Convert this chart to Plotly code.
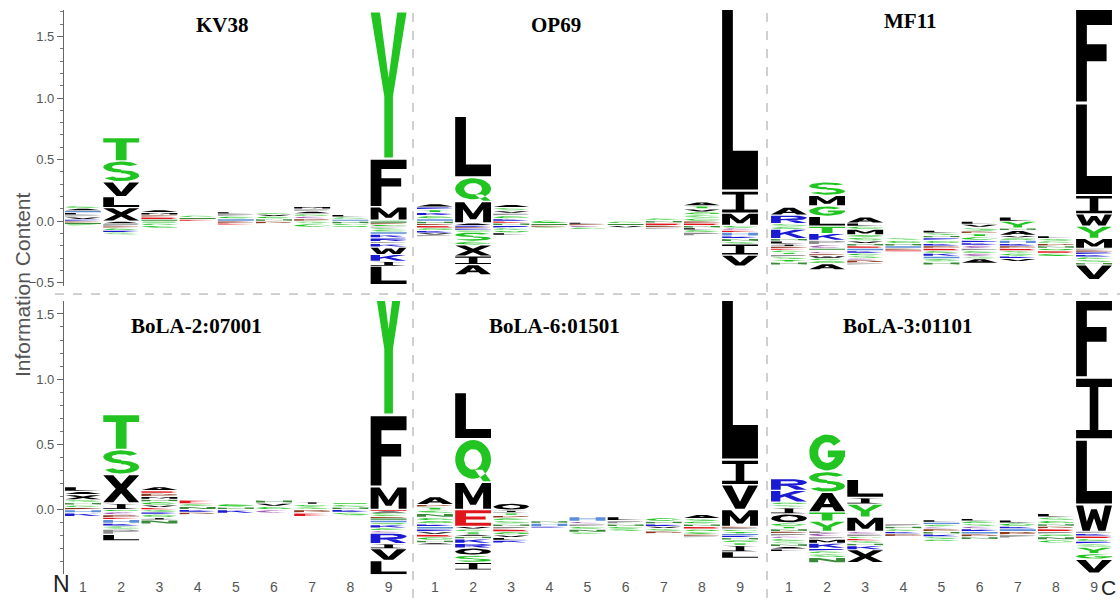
import numpy as np
import plotly.graph_objects as go

# ---------------------------------------------------------------- data
POSITIONS = [1, 2, 3, 4, 5, 6, 7, 8, 9]
TITLES = ["KV38", "OP69", "MF11", "BoLA-2:07001", "BoLA-6:01501", "BoLA-3:01101"]

# letters stacked above the baseline (listed bottom -> top), heights in bits
KV38_UP = [
    [("R", 0.015), ("V", 0.02), ("P", 0.015), ("L", 0.02), ("H", 0.015), ("A", 0.02), ("G", 0.02)],
    [("X", 0.11), ("L", 0.09), ("V", 0.12), ("S", 0.17), ("T", 0.19)],
    [("N", 0.015), ("E", 0.02), ("D", 0.015), ("M", 0.02), ("A", 0.024)],
    [("E", 0.015), ("N", 0.015), ("G", 0.018)],
    [("H", 0.02), ("G", 0.02), ("P", 0.02), ("L", 0.016)],
    [("N", 0.02), ("G", 0.02), ("V", 0.015), ("S", 0.015)],
    [("D", 0.02), ("C", 0.02), ("G", 0.02), ("A", 0.02), ("P", 0.02), ("M", 0.02)],
    [("H", 0.015), ("G", 0.02), ("L", 0.019)],
    [("G", 0.008), ("M", 0.108), ("F", 0.39), ("Y", 1.2)],
]
# letters stacked below the baseline (listed baseline -> bottom)
KV38_DOWN = [
    [("D", 0.012), ("N", 0.012), ("G", 0.011)],
    [("A", 0.02), ("P", 0.02), ("D", 0.015), ("G", 0.02), ("K", 0.015), ("S", 0.02)],
    [("Q", 0.015), ("G", 0.02), ("S", 0.025)],
    [("N", 0.006)],
    [("D", 0.015), ("E", 0.015)],
    [("D", 0.02)],
    [("S", 0.02), ("G", 0.03)],
    [("N", 0.02), ("G", 0.015), ("Q", 0.015)],
    [("N", 0.015), ("D", 0.012), ("G", 0.015), ("P", 0.012), ("S", 0.016), ("G", 0.015),
     ("H", 0.02), ("K", 0.03), ("R", 0.03), ("P", 0.015), ("K", 0.03), ("W", 0.06),
     ("K", 0.055), ("I", 0.04), ("L", 0.15)],
]

OP69_UP = [
    [("D", 0.015), ("N", 0.02), ("H", 0.02), ("G", 0.025), ("K", 0.025), ("T", 0.025), ("R", 0.02), ("A", 0.027)],
    [("A", 0.02), ("M", 0.175), ("Q", 0.195), ("L", 0.5)],
    [("N", 0.02), ("E", 0.015), ("K", 0.02), ("G", 0.025), ("P", 0.02), ("V", 0.02), ("S", 0.025), ("A", 0.025)],
    [("N", 0.015), ("G", 0.028)],
    [("D", 0.012), ("L", 0.012)],
    [("N", 0.015), ("G", 0.02)],
    [("E", 0.02), ("N", 0.02), ("G", 0.022)],
    [("E", 0.02), ("D", 0.015), ("G", 0.025), ("S", 0.025), ("Q", 0.025), ("V", 0.025), ("T", 0.025), ("A", 0.03)],
    [("M", 0.1), ("I", 0.18), ("L", 1.6)],
]
OP69_DOWN = [
    [("E", 0.02), ("Q", 0.02), ("K", 0.02), ("V", 0.016), ("P", 0.015)],
    [("K", 0.012), ("D", 0.012), ("R", 0.014), ("Q", 0.015), ("S", 0.075), ("G", 0.03),
     ("X", 0.09), ("I", 0.07), ("A", 0.082)],
    [("R", 0.02), ("G", 0.02), ("Q", 0.02), ("L", 0.018)],
    [("D", 0.012), ("S", 0.012)],
    [("C", 0.015), ("G", 0.015)],
    [("V", 0.019)],
    [("D", 0.015), ("P", 0.015)],
    [("N", 0.02), ("L", 0.015), ("G", 0.02), ("P", 0.028)],
    [("G", 0.02), ("C", 0.02), ("E", 0.015), ("H", 0.03), ("K", 0.02), ("N", 0.025),
     ("S", 0.02), ("I", 0.09), ("V", 0.09)],
]

MF11_UP = [
    [("D", 0.015), ("I", 0.02), ("L", 0.025), ("N", 0.02), ("K", 0.075), ("G", 0.02), ("S", 0.025), ("R", 0.07), ("A", 0.065)],
    [("C", 0.03), ("P", 0.035), ("K", 0.055), ("T", 0.06), ("L", 0.08), ("G", 0.085), ("M", 0.085), ("S", 0.11)],
    [("E", 0.02), ("N", 0.02), ("V", 0.02), ("S", 0.03), ("Q", 0.02), ("M", 0.045), ("G", 0.025), ("L", 0.025), ("A", 0.05)],
    [("H", 0.02), ("N", 0.02), ("G", 0.025), ("S", 0.021)],
    [("D", 0.02), ("K", 0.02), ("G", 0.025), ("R", 0.02), ("N", 0.02), ("S", 0.02), ("L", 0.023)],
    [("C", 0.025), ("K", 0.02), ("R", 0.02), ("G", 0.03), ("T", 0.025), ("D", 0.02), ("S", 0.03), ("V", 0.025), ("L", 0.025)],
    [("D", 0.02), ("K", 0.02), ("H", 0.025), ("Q", 0.02), ("V", 0.02), ("A", 0.04), ("N", 0.02), ("Y", 0.055), ("L", 0.035)],
    [("N", 0.02), ("D", 0.02), ("G", 0.02), ("S", 0.02), ("L", 0.022)],
    [("M", 0.08), ("Y", 0.1), ("W", 0.1), ("I", 0.15), ("L", 0.75), ("F", 0.8)],
]
MF11_DOWN = [
    [("E", 0.015), ("G", 0.02), ("T", 0.015), ("P", 0.02), ("S", 0.02), ("Y", 0.02), ("N", 0.025)],
    [("N", 0.015), ("E", 0.01), ("C", 0.02), ("D", 0.015), ("W", 0.02), ("G", 0.02), ("Q", 0.025), ("A", 0.05)],
    [("H", 0.02), ("K", 0.02), ("G", 0.02), ("S", 0.02), ("C", 0.015), ("D", 0.025), ("P", 0.015)],
    [("D", 0.015), ("E", 0.012)],
    [("E", 0.02), ("G", 0.02), ("K", 0.025), ("H", 0.02), ("S", 0.025), ("N", 0.025)],
    [("P", 0.02), ("G", 0.02), ("C", 0.025), ("S", 0.02), ("A", 0.036)],
    [("E", 0.02), ("S", 0.02), ("G", 0.022), ("K", 0.02), ("V", 0.025)],
    [("Q", 0.02), ("E", 0.02), ("G", 0.027)],
    [("P", 0.015), ("D", 0.015), ("R", 0.02), ("K", 0.02), ("G", 0.02), ("S", 0.025), ("N", 0.02), ("V", 0.12)],
]

BOLA2_UP = [
    [("D", 0.015), ("G", 0.02), ("N", 0.02), ("S", 0.02), ("X", 0.04), ("A", 0.025), ("L", 0.035)],
    [("I", 0.05), ("X", 0.22), ("S", 0.19), ("T", 0.27)],
    [("E", 0.015), ("V", 0.02), ("G", 0.025), ("N", 0.02), ("M", 0.02), ("D", 0.025), ("E", 0.02), ("A", 0.03)],
    [("N", 0.025), ("G", 0.02), ("E", 0.029)],
    [("N", 0.02), ("G", 0.028)],
    [("G", 0.025), ("V", 0.025), ("N", 0.024)],
    [("S", 0.02), ("G", 0.02), ("I", 0.02)],
    [("N", 0.02), ("G", 0.018), ("Q", 0.015)],
    [("M", 0.175), ("F", 0.55), ("Y", 1.2)],
]
BOLA2_DOWN = [
    [("H", 0.025), ("K", 0.028)],
    [("G", 0.015), ("C", 0.025), ("D", 0.02), ("E", 0.015), ("H", 0.03), ("K", 0.02), ("S", 0.025), ("P", 0.04), ("L", 0.05)],
    [("S", 0.02), ("K", 0.015), ("G", 0.025), ("I", 0.02), ("N", 0.03)],
    [("K", 0.02), ("D", 0.02)],
    [("K", 0.028)],
    [("C", 0.028)],
    [("D", 0.025), ("E", 0.028)],
    [("K", 0.02), ("S", 0.028)],
    [("E", 0.012), ("A", 0.012), ("G", 0.015), ("S", 0.015), ("D", 0.012), ("N", 0.015), ("H", 0.02),
     ("Q", 0.015), ("K", 0.025), ("G", 0.02), ("C", 0.019), ("R", 0.08), ("I", 0.04), ("V", 0.09), ("L", 0.11)],
]

BOLA6_UP = [
    [("K", 0.02), ("Q", 0.025), ("G", 0.025), ("N", 0.03), ("S", 0.025), ("T", 0.025), ("D", 0.018), ("A", 0.06)],
    [("E", 0.13), ("M", 0.21), ("Q", 0.33), ("L", 0.36)],
    [("N", 0.02), ("S", 0.025), ("G", 0.02), ("D", 0.02), ("T", 0.02), ("I", 0.02), ("O", 0.053)],
    [("H", 0.025), ("N", 0.02)],
    [("P", 0.02), ("C", 0.02), ("H", 0.036)],
    [("N", 0.02), ("P", 0.025), ("L", 0.031)],
    [("K", 0.02), ("N", 0.02), ("G", 0.027)],
    [("N", 0.02), ("G", 0.02), ("S", 0.02), ("A", 0.032)],
    [("M", 0.13), ("V", 0.19), ("I", 0.19), ("L", 1.3)],
]
BOLA6_DOWN = [
    [("H", 0.02), ("R", 0.02), ("V", 0.02), ("E", 0.02), ("G", 0.025), ("N", 0.02), ("A", 0.015)],
    [("V", 0.02), ("G", 0.02), ("T", 0.02), ("A", 0.015), ("N", 0.02), ("K", 0.035), ("R", 0.035),
     ("O", 0.055), ("S", 0.055), ("I", 0.06)],
    [("P", 0.02), ("E", 0.02), ("Q", 0.025), ("V", 0.02), ("L", 0.02), ("K", 0.022)],
    [("K", 0.01)],
    [("G", 0.02), ("N", 0.025), ("S", 0.016)],
    [("G", 0.02), ("S", 0.018)],
    [("V", 0.015), ("S", 0.02), ("D", 0.02)],
    [("E", 0.02), ("Q", 0.02), ("G", 0.02), ("D", 0.015), ("P", 0.01)],
    [("D", 0.012), ("P", 0.012), ("G", 0.015), ("Y", 0.015), ("H", 0.015), ("K", 0.015), ("N", 0.02),
     ("Q", 0.02), ("T", 0.02), ("I", 0.05), ("L", 0.05)],
]

BOLA3_UP = [
    [("N", 0.02), ("T", 0.02), ("G", 0.025), ("O", 0.07), ("I", 0.05), ("S", 0.02), ("Q", 0.02), ("K", 0.09), ("R", 0.09)],
    [("Y", 0.08), ("T", 0.07), ("A", 0.15), ("S", 0.16), ("G", 0.29)],
    [("M", 0.11), ("Y", 0.1), ("I", 0.05), ("L", 0.14)],
    [("G", 0.02), ("N", 0.02), ("P", 0.019)],
    [("D", 0.02), ("C", 0.015), ("G", 0.02), ("H", 0.015), ("L", 0.019)],
    [("K", 0.02), ("C", 0.02), ("S", 0.02), ("G", 0.02), ("L", 0.02)],
    [("H", 0.02), ("K", 0.02), ("G", 0.025), ("L", 0.024)],
    [("E", 0.02), ("D", 0.02), ("N", 0.02), ("G", 0.025), ("S", 0.025), ("L", 0.029)],
    [("W", 0.205), ("L", 0.5), ("I", 0.475), ("F", 0.65)],
]
BOLA3_DOWN = [
    [("D", 0.015), ("P", 0.02), ("C", 0.02), ("G", 0.02), ("S", 0.02), ("N", 0.02), ("A", 0.02), ("L", 0.018)],
    [("L", 0.01), ("C", 0.03), ("P", 0.02), ("M", 0.03), ("K", 0.04), ("R", 0.02), ("G", 0.02), ("S", 0.03), ("N", 0.04)],
    [("C", 0.02), ("P", 0.02), ("G", 0.015), ("E", 0.015), ("S", 0.02), ("N", 0.02), ("K", 0.03), ("X", 0.1)],
    [("K", 0.018), ("D", 0.02)],
    [("N", 0.02), ("K", 0.02), ("S", 0.02), ("G", 0.016)],
    [("H", 0.02), ("D", 0.02), ("N", 0.023)],
    [("D", 0.025), ("P", 0.026)],
    [("P", 0.02), ("Q", 0.02), ("N", 0.025), ("G", 0.024)],
    [("P", 0.015), ("K", 0.02), ("E", 0.02), ("G", 0.02), ("R", 0.02), ("S", 0.025), ("Y", 0.05), ("G", 0.043), ("V", 0.107)],
]

PANEL_UP = [KV38_UP, OP69_UP, MF11_UP, BOLA2_UP, BOLA6_UP, BOLA3_UP]
PANEL_DOWN = [KV38_DOWN, OP69_DOWN, MF11_DOWN, BOLA2_DOWN, BOLA6_DOWN, BOLA3_DOWN]

# ---------------------------------------------------------------- colours
GREEN, BLACK, BLUE, RED = "#22c422", "#000000", "#1a1ad2", "#e0161b"
LETTER_COLORS = {
    "G": GREEN, "S": GREEN, "T": GREEN, "Y": GREEN, "Q": GREEN, "N": "#3a8a3a",
    "A": BLACK, "F": BLACK, "I": BLACK, "L": BLACK, "M": BLACK, "V": BLACK, "W": BLACK,
    "X": BLACK, "O": BLACK, "C": "#a05cb0", "P": "#8c8c8c",
    "K": BLUE, "R": BLUE, "H": "#5d8fd8", "E": RED, "D": "#8b3a1f",
}


# ---------------------------------------------------------------- glyph outlines (unit box)
def arc(cx, cy, rx, ry, a0, a1, n=30):
    t = np.radians(np.linspace(a0, a1, n))
    return list(zip(cx + rx * np.cos(t), cy + ry * np.sin(t)))


def ring(cx, cy, rxo, ryo, rxi, ryi, a0, a1):
    return arc(cx, cy, rxo, ryo, a0, a1) + arc(cx, cy, rxi, ryi, a1, a0)


def rect(x0, y0, x1, y1):
    return [(x0, y0), (x1, y0), (x1, y1), (x0, y1)]


P_OUT = [(0, 0), (0.27, 0), (0.27, 0.38), (0.62, 0.38)] + arc(0.62, 0.69, 0.38, 0.31, -90, 90) + [(0, 1)]
P_HOLE = [(0.27, 0.56), (0.6, 0.56)] + arc(0.6, 0.69, 0.15, 0.13, -90, 90) + [(0.27, 0.82)]

GLYPHS = {
    "A": ([[(0, 0), (0.28, 0), (0.35, 0.22), (0.65, 0.22), (0.72, 0), (1, 0), (0.64, 1), (0.36, 1)]],
          [[(0.41, 0.4), (0.59, 0.4), (0.5, 0.72)]]),
    "C": ([ring(0.5, 0.5, 0.5, 0.5, 0.25, 0.29, 42, 318)], []),
    "D": ([[(0, 0), (0.45, 0)] + arc(0.45, 0.5, 0.55, 0.5, -90, 90) + [(0, 1)]],
          [[(0.27, 0.19), (0.45, 0.19)] + arc(0.45, 0.5, 0.3, 0.31, -90, 90) + [(0.27, 0.81)]]),
    "E": ([[(0, 0), (1, 0), (1, 0.2), (0.3, 0.2), (0.3, 0.41), (0.85, 0.41), (0.85, 0.59), (0.3, 0.59),
            (0.3, 0.8), (1, 0.8), (1, 1), (0, 1)]], []),
    "F": ([[(0, 0), (0.3, 0), (0.3, 0.42), (0.85, 0.42), (0.85, 0.6), (0.3, 0.6), (0.3, 0.8), (1, 0.8),
            (1, 1), (0, 1)]], []),
    "G": ([ring(0.5, 0.5, 0.5, 0.5, 0.25, 0.29, 40, 360), rect(0.52, 0.37, 1, 0.56)], []),
    "H": ([[(0, 0), (0.27, 0), (0.27, 0.41), (0.73, 0.41), (0.73, 0), (1, 0), (1, 1), (0.73, 1),
            (0.73, 0.59), (0.27, 0.59), (0.27, 1), (0, 1)]], []),
    "I": ([[(0, 0), (1, 0), (1, 0.14), (0.62, 0.14), (0.62, 0.86), (1, 0.86), (1, 1), (0, 1),
            (0, 0.86), (0.38, 0.86), (0.38, 0.14), (0, 0.14)]], []),
    "K": ([[(0, 0), (0.26, 0), (0.26, 0.35), (0.38, 0.47), (0.72, 0), (1, 0), (0.55, 0.62), (0.98, 1),
            (0.66, 1), (0.26, 0.62), (0.26, 1), (0, 1)]], []),
    "L": ([[(0, 0), (1, 0), (1, 0.2), (0.3, 0.2), (0.3, 1), (0, 1)]], []),
    "M": ([[(0, 0), (0.22, 0), (0.22, 0.65), (0.42, 0.15), (0.58, 0.15), (0.78, 0.65), (0.78, 0),
            (1, 0), (1, 1), (0.75, 1), (0.5, 0.42), (0.25, 1), (0, 1)]], []),
    "N": ([[(0, 0), (0.25, 0), (0.25, 0.6), (0.72, 0), (1, 0), (1, 1), (0.75, 1), (0.75, 0.4),
            (0.28, 1), (0, 1)]], []),
    "O": ([arc(0.5, 0.5, 0.5, 0.5, 0, 360)], [arc(0.5, 0.5, 0.25, 0.29, 0, 360)]),
    "P": ([P_OUT], [P_HOLE]),
    "Q": ([arc(0.5, 0.53, 0.5, 0.47, 0, 360), [(0.55, 0.28), (0.76, 0.28), (1.0, 0.0), (0.78, 0.0)]],
          [arc(0.5, 0.53, 0.25, 0.25, 0, 360)]),
    "R": ([P_OUT, [(0.42, 0.4), (0.7, 0.4), (1, 0), (0.7, 0)]], [P_HOLE]),
    "S": ([ring(0.5, 0.72, 0.5, 0.28, 0.26, 0.12, 25, 270),
           ring(0.5, 0.28, 0.5, 0.28, 0.26, 0.12, 90, -155)], []),
    "T": ([[(0.35, 0), (0.65, 0), (0.65, 0.8), (1, 0.8), (1, 1), (0, 1), (0, 0.8), (0.35, 0.8)]], []),
    "V": ([[(0, 1), (0.27, 1), (0.5, 0.3), (0.73, 1), (1, 1), (0.63, 0), (0.37, 0)]], []),
    "W": ([[(0, 1), (0.2, 1), (0.3, 0.35), (0.42, 0.85), (0.58, 0.85), (0.7, 0.35), (0.8, 1), (1, 1),
            (0.82, 0), (0.62, 0), (0.5, 0.5), (0.38, 0), (0.18, 0)]], []),
    "X": ([[(0, 1), (0.28, 1), (0.5, 0.67), (0.72, 1), (1, 1), (0.65, 0.5), (1, 0), (0.72, 0),
            (0.5, 0.33), (0.28, 0), (0, 0), (0.35, 0.5)]], []),
    "Y": ([[(0, 1), (0.26, 1), (0.5, 0.55), (0.74, 1), (1, 1), (0.62, 0.42), (0.62, 0), (0.38, 0),
            (0.38, 0.42)]], []),
}

# ---------------------------------------------------------------- layout geometry (pixels)
W, H = 1120, 602
COL_PX = [(63.9, 407.7), (415.9, 759.1), (769.9, 1113.1)]
ROW_PX = [(10, 288), (303, 578)]
ROW_SCALE = [124.0, 131.3]          # pixels per bit
BASE_PX = [222.7, 227, 250, 513, 530, 535]
TITLE_PX = [(222, 25), (556, 25), (910, 21), (196, 328), (554, 328), (908, 328)]
LETTER_W = 0.94

fig = go.Figure()
layout = {}


def add_glyph(store, holes, letter, xc, y0, h):
    inset = min(0.004 + 0.01 * h, 0.012, 0.2 * h)
    gh = h - 2 * inset
    fills, cuts = GLYPHS[letter]
    color = LETTER_COLORS[letter]
    xs, ys = store.setdefault(color, ([], []))
    for poly in fills:
        for gx, gy in poly + [poly[0]]:
            xs.append(xc - LETTER_W / 2 + gx * LETTER_W)
            ys.append(y0 + inset + gy * gh)
        xs.append(None)
        ys.append(None)
    for poly in cuts:
        for gx, gy in poly + [poly[0]]:
            holes[0].append(xc - LETTER_W / 2 + gx * LETTER_W)
            holes[1].append(y0 + inset + gy * gh)
        holes[0].append(None)
        holes[1].append(None)


for k in range(6):
    r, c = divmod(k, 3)
    sfx = "" if k == 0 else str(k + 1)
    x0, x1 = COL_PX[c]
    top, bot = ROW_PX[r]
    s = ROW_SCALE[r]
    base = BASE_PX[k]
    show_y = c == 0
    show_x = r == 1

    layout["xaxis" + sfx] = dict(
        domain=[x0 / W, x1 / W], range=[0.5, 9.5], anchor="y" + sfx,
        showgrid=False, zeroline=False, showline=False, ticks="",
        tickmode="array", tickvals=POSITIONS, ticktext=[str(p) for p in POSITIONS],
        showticklabels=show_x, ticklabelstandoff=3,
        tickfont=dict(family="Liberation Sans, Arial", size=14, color="#555"),
        fixedrange=True,
    )
    yax = dict(
        domain=[1 - bot / H, 1 - top / H], range=[(base - bot) / s, (base - top) / s],
        anchor="x" + sfx, showgrid=False, zeroline=False, fixedrange=True,
    )
    if show_y:
        yax.update(
            showline=True, linecolor="#666", linewidth=1,
            ticks="outside", ticklen=6, tickcolor="#666", tickwidth=1,
            tick0=0, dtick=0.5, tickformat=".1f",
            tickfont=dict(family="Liberation Sans, Arial", size=13, color="#555"),
            minor=dict(dtick=0.1, ticks="outside", ticklen=3, tickcolor="#777", showgrid=False),
        )
    else:
        yax.update(showline=False, ticks="", showticklabels=False)
    layout["yaxis" + sfx] = yax

    store, holes = {}, ([], [])
    for i, pos in enumerate(POSITIONS):
        y = 0.0
        for letter, v in PANEL_UP[k][i]:
            add_glyph(store, holes, letter, pos, y, v)
            y += v
        y = 0.0
        for letter, v in PANEL_DOWN[k][i]:
            y -= v
            add_glyph(store, holes, letter, pos, y, v)

    for color, (xs, ys) in store.items():
        fig.add_trace(go.Scatter(
            x=xs, y=ys, mode="lines", fill="toself", fillcolor=color,
            line=dict(width=0, color=color), hoverinfo="skip", showlegend=False,
            xaxis="x" + sfx, yaxis="y" + sfx,
        ))
    if holes[0]:
        fig.add_trace(go.Scatter(
            x=holes[0], y=holes[1], mode="lines", fill="toself", fillcolor="white",
            line=dict(width=0, color="white"), hoverinfo="skip", showlegend=False,
            xaxis="x" + sfx, yaxis="y" + sfx,
        ))

# ---------------------------------------------------------------- annotations
annotations = []
for (tx, ty), title in zip(TITLE_PX, TITLES):
    annotations.append(dict(
        x=tx / W, y=1 - ty / H, xref="paper", yref="paper", text="<b>%s</b>" % title,
        showarrow=False, xanchor="center", yanchor="middle",
        font=dict(family="Liberation Serif, Times New Roman", size=21, color="#000"),
    ))
annotations.append(dict(
    x=22 / W, y=1 - 287 / H, xref="paper", yref="paper", text="Information Content",
    showarrow=False, textangle=-90, xanchor="center", yanchor="middle",
    font=dict(family="Liberation Sans, Arial", size=21, color="#555"),
))
annotations.append(dict(
    x=61 / W, y=1 - 588 / H, xref="paper", yref="paper", text="N", showarrow=False,
    xanchor="center", yanchor="middle", font=dict(family="Liberation Sans, Arial", size=23, color="#222"),
))
annotations.append(dict(
    x=1118 / W, y=1 - 591 / H, xref="paper", yref="paper", text="C", showarrow=False,
    xanchor="right", yanchor="middle", font=dict(family="Liberation Sans, Arial", size=21, color="#222"),
))

# dashed panel separators
dash = dict(color="#a0a0a0", width=1, dash="dash")
shapes = [
    dict(type="line", xref="paper", yref="paper", x0=55 / W, x1=1, y0=1 - 296 / H, y1=1 - 296 / H, line=dash),
    dict(type="line", xref="paper", yref="paper", x0=413 / W, x1=413 / W, y0=0, y1=1 - 10 / H, line=dash),
    dict(type="line", xref="paper", yref="paper", x0=767 / W, x1=767 / W, y0=0, y1=1 - 10 / H, line=dash),
]

fig.update_layout(
    width=W, height=H, margin=dict(l=0, r=0, t=0, b=0),
    paper_bgcolor="white", plot_bgcolor="white",
    annotations=annotations, shapes=shapes, showlegend=False,
    **layout,
)

fig.write_html("out.html", config={"displayModeBar": False})
